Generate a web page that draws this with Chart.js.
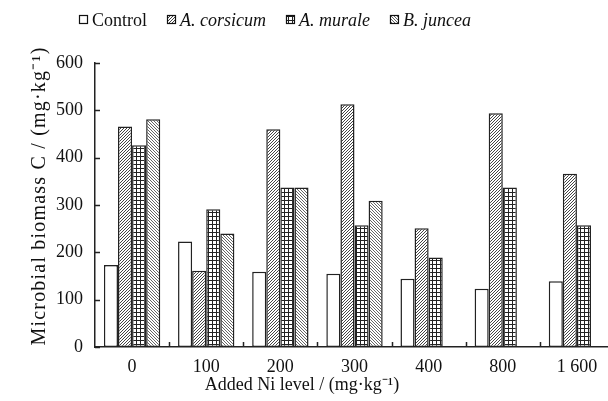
<!DOCTYPE html>
<html>
<head>
<meta charset="utf-8">
<script src="https://cdn.jsdelivr.net/npm/chart.js@4"></script>
<style>
  html, body { margin: 0; padding: 0; background: #fff; overflow: hidden; }
  #wrap { width: 614px; height: 401px; }
</style>
</head>
<body>
<div id="wrap"><canvas id="myChart" width="614" height="401"></canvas></div>
<script>
// values (mg/kg)
const categories = ['0', '100', '200', '300', '400', '800', '1 600'];
const seriesNames = ['Control', 'A. corsicum', 'A. murale', 'B. juncea'];
const italicName = [false, true, true, true];
const control = [173, 223, 159, 155, 144, 123, 139];
const corsicum = [466, 161, 460, 513, 251, 494, 366];
const murale = [426, 291, 337, 257, 189, 337, 257];
const juncea = [481, 240, 337, 309, null, null, null];
const yTicks = [0, 100, 200, 300, 400, 500, 600];
const xTitle = 'Added Ni level / (mg·kg⁻¹)';
const yTitle = 'Microbial biomass C / (mg·kg⁻¹)';

const serif = "'Liberation Serif', 'Times New Roman', serif";

function makePattern(kind) {
  const c = document.createElement('canvas');
  const s = kind === 'grid' ? 4 : 3;
  c.width = s; c.height = s;
  const g = c.getContext('2d');
  g.fillStyle = '#fff';
  g.fillRect(0, 0, s, s);
  g.strokeStyle = kind === 'grid' ? '#222' : (kind === 'back' ? '#666' : '#444');
  g.lineWidth = 1;
  g.beginPath();
  if (kind === 'fwd') {
    g.moveTo(0, s); g.lineTo(s, 0);
    g.moveTo(-1, 1); g.lineTo(1, -1);
    g.moveTo(s - 1, s + 1); g.lineTo(s + 1, s - 1);
  } else if (kind === 'back') {
    g.moveTo(0, 0); g.lineTo(s, s);
    g.moveTo(s - 1, -1); g.lineTo(s + 1, 1);
    g.moveTo(-1, s - 1); g.lineTo(1, s + 1);
  } else {
    g.moveTo(0, 0.5); g.lineTo(s, 0.5);
    g.moveTo(0.5, 0); g.lineTo(0.5, s);
  }
  g.stroke();
  return g.createPattern(c, 'repeat');
}

const ctx = document.getElementById('myChart').getContext('2d');
const fills = ['#ffffff', makePattern('fwd'), makePattern('grid'), makePattern('back')];
const allData = [control, corsicum, murale, juncea];

// inward tick marks on both axes
const innerTicks = {
  id: 'innerTicks',
  afterDatasetsDraw(chart) {
    const c = chart.ctx, x = chart.scales.x, y = chart.scales.y;
    const area = chart.chartArea;
    c.save();
    c.strokeStyle = '#222';
    c.lineWidth = 1.5;
    c.beginPath();
    yTicks.forEach(v => {
      const py = Math.round(y.getPixelForValue(v)) + 0.5;
      c.moveTo(area.left, py); c.lineTo(area.left + 5, py);
    });
    for (let i = 0; i < categories.length - 1; i++) {
      const px = Math.round((x.getPixelForTick(i) + x.getPixelForTick(i + 1)) / 2) + 0.5;
      c.moveTo(px, area.bottom); c.lineTo(px, area.bottom - 5);
    }
    c.stroke();
    c.restore();
  }
};

// axis titles, placed like the figure (x title centred on the page)
const axisTitles = {
  id: 'axisTitles',
  afterDraw(chart) {
    const c = chart.ctx;
    c.save();
    c.fillStyle = '#111';
    c.textAlign = 'center';
    c.textBaseline = 'middle';
    c.font = '18px ' + serif;
    c.fillText(xTitle, 302, 385);
    c.translate(40, 196);
    c.rotate(-Math.PI / 2);
    c.font = '20px ' + serif;
    c.letterSpacing = '1.2px';
    c.fillText(yTitle, 0, 0);
    c.restore();
  }
};

// legend drawn on top, italic species names
const topLegend = {
  id: 'topLegend',
  afterDraw(chart) {
    const c = chart.ctx;
    c.save();
    let xPos = 79;
    const yMid = 20;
    seriesNames.forEach((name, i) => {
      c.fillStyle = fills[i];
      c.fillRect(xPos, yMid - 5, 9, 9);
      c.strokeStyle = '#111';
      c.lineWidth = 1.2;
      c.strokeRect(xPos + 0.5, yMid - 4.5, 8, 8);
      c.font = (italicName[i] ? 'italic ' : '') + '18px ' + serif;
      c.fillStyle = '#111';
      c.textBaseline = 'middle';
      c.fillText(name, xPos + 13, yMid + 1);
      xPos += 13 + c.measureText(name).width + 20;
    });
    c.restore();
  }
};

const config = {
  type: 'bar',
  data: {
    labels: categories,
    datasets: seriesNames.map((name, i) => ({
      label: name,
      data: allData[i],
      backgroundColor: fills[i],
      borderColor: '#222',
      borderWidth: 1.5,
      borderSkipped: false,
      categoryPercentage: 0.76,
      barPercentage: 1.0
    }))
  },
  options: {
    responsive: false,
    animation: false,
    layout: { padding: { top: 63, left: 0, right: 0, bottom: 0 } },
    plugins: {
      legend: { display: false },
      tooltip: { enabled: false }
    },
    scales: {
      x: {
        afterFit(scale) { scale.height = 54; },
        grid: { display: false, drawTicks: false },
        border: { display: true, color: '#222', width: 1.5 },
        ticks: { color: '#111', padding: 9, font: { family: serif, size: 18 } }
      },
      y: {
        min: 0,
        max: 600,
        afterFit(scale) { scale.width = 95; },
        afterBuildTicks(scale) { scale.ticks = yTicks.map(v => ({ value: v })); },
        grid: { display: false, drawTicks: false },
        border: { display: true, color: '#222', width: 1.5 },
        ticks: { color: '#111', padding: 12, font: { family: serif, size: 18 } }
      }
    }
  },
  plugins: [innerTicks, axisTitles, topLegend]
};

const myChart = new Chart(ctx, config);
</script>
</body>
</html>
